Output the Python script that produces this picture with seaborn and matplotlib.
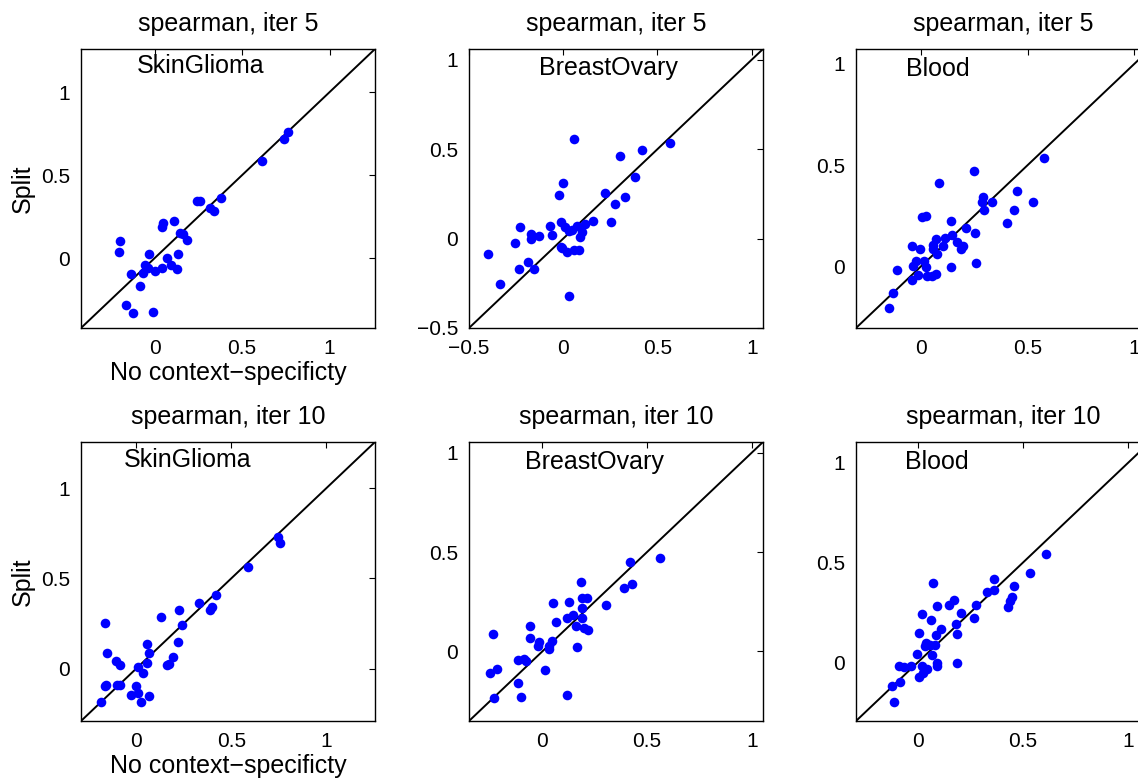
import matplotlib
matplotlib.use("Agg")
import matplotlib.pyplot as plt
import seaborn as sns
import pandas as pd

sns.set_style("white")
plt.rcParams['font.family'] = ['Liberation Sans', 'DejaVu Sans']
plt.rcParams['text.color'] = 'black'
plt.rcParams['axes.labelcolor'] = 'black'
plt.rcParams['xtick.color'] = 'black'
plt.rcParams['ytick.color'] = 'black'

# ---------------- data ----------------
# iter 5
sg5_x = [0.765, 0.740, 0.617, 0.380, 0.317, 0.338, 0.245, 0.260, 0.112, 0.051, 0.040,
         0.145, 0.165, 0.184, -0.195, -0.203, -0.032, 0.133, 0.070, -0.055, -0.040,
         -0.063, 0.004, 0.042, 0.095, 0.127, -0.137, -0.085, -0.165, -0.121, -0.006]
sg5_y = [0.758, 0.719, 0.584, 0.362, 0.305, 0.287, 0.345, 0.345, 0.222, 0.212, 0.188,
         0.150, 0.145, 0.107, 0.105, 0.040, 0.028, 0.026, 0.004, -0.040, -0.061,
         -0.089, -0.079, -0.061, -0.038, -0.067, -0.095, -0.170, -0.279, -0.327, -0.321]

bo5_x = [0.058, 0.564, 0.419, 0.300, 0.382, -0.002, -0.021, 0.223, 0.330, 0.277,
         -0.230, -0.071, -0.014, 0.159, 0.253, -0.173, -0.170, -0.129, -0.062, 0.009,
         0.030, 0.048, 0.074, 0.115, 0.101, 0.088, -0.258, -0.399, -0.014, -0.005,
         0.021, 0.057, 0.083, -0.187, -0.233, -0.157, -0.337, 0.030]
bo5_y = [0.558, 0.537, 0.493, 0.461, 0.347, 0.308, 0.241, 0.257, 0.231, 0.194,
         0.063, 0.073, 0.091, 0.099, 0.091, 0.024, -0.004, 0.015, 0.021, 0.063,
         0.043, 0.048, 0.071, 0.080, 0.039, 0.009, -0.026, -0.088, -0.045, -0.055,
         -0.076, -0.063, -0.063, -0.129, -0.170, -0.170, -0.252, -0.319]

bl5_x = [0.577, 0.250, 0.084, 0.452, 0.289, 0.284, 0.331, 0.527, 0.294, 0.436, 0.405,
         0.003, 0.022, 0.139, 0.213, 0.253, 0.072, 0.113, 0.144, 0.167, 0.198, 0.188,
         0.055, 0.058, 0.105, 0.077, -0.042, -0.003, -0.023, -0.039, 0.016, 0.022,
         -0.113, -0.013, 0.030, 0.050, 0.072, 0.141, 0.256, -0.044, -0.130, -0.150]
bl5_y = [0.533, 0.472, 0.413, 0.370, 0.343, 0.317, 0.318, 0.317, 0.277, 0.279, 0.215,
         0.246, 0.249, 0.226, 0.191, 0.163, 0.137, 0.142, 0.153, 0.120, 0.101, 0.084,
         0.106, 0.084, 0.101, 0.061, 0.099, 0.087, 0.028, 0.000, 0.028, -0.002,
         -0.018, -0.041, -0.048, -0.048, -0.038, -0.003, 0.015, -0.069, -0.134, -0.206]

# iter 10
sg10_x = [0.747, 0.756, 0.588, 0.419, 0.330, 0.386, 0.400, 0.223, 0.133, 0.241, -0.166,
          0.222, 0.058, 0.068, -0.155, -0.106, -0.087, 0.195, 0.162, 0.173, 0.058,
          0.010, 0.035, -0.166, -0.160, -0.099, -0.086, -0.003, -0.026, 0.009, 0.066,
          0.023, -0.187]
sg10_y = [0.730, 0.697, 0.562, 0.408, 0.364, 0.325, 0.342, 0.325, 0.288, 0.244, 0.253,
          0.150, 0.135, 0.089, 0.087, 0.043, 0.022, 0.067, 0.020, 0.024, 0.033,
          0.009, -0.022, -0.098, -0.090, -0.091, -0.091, -0.098, -0.144, -0.137, -0.153,
          -0.183, -0.187]

bo10_x = [0.560, 0.419, 0.427, 0.391, 0.187, 0.305, 0.191, 0.212, 0.049, 0.129, 0.190,
          0.116, 0.148, 0.188, 0.065, 0.159, 0.199, 0.220, -0.057, -0.059, -0.233,
          -0.016, -0.021, 0.045, 0.032, 0.032, 0.164, -0.116, -0.088, -0.080, 0.014,
          -0.250, -0.217, -0.116, -0.230, -0.104, 0.116]
bo10_y = [0.471, 0.450, 0.339, 0.319, 0.348, 0.235, 0.269, 0.269, 0.244, 0.250, 0.217,
          0.170, 0.185, 0.170, 0.146, 0.129, 0.116, 0.108, 0.128, 0.067, 0.086,
          0.049, 0.025, 0.054, 0.029, 0.012, 0.020, -0.044, -0.039, -0.047, -0.092,
          -0.106, -0.089, -0.161, -0.234, -0.229, -0.217]

bl10_x = [0.610, 0.533, 0.363, 0.457, 0.329, 0.363, 0.449, 0.440, 0.429, 0.073, 0.173,
          0.148, 0.092, 0.276, 0.203, 0.267, 0.021, 0.060, 0.183, 0.108, 0.186, 0.006,
          0.087, 0.038, 0.035, 0.059, 0.083, -0.005, 0.068, -0.089, -0.068, -0.032,
          0.019, 0.043, 0.090, 0.090, 0.187, 0.006, 0.022, -0.122, -0.086, -0.113]
bl10_y = [0.542, 0.445, 0.416, 0.384, 0.354, 0.362, 0.327, 0.307, 0.275, 0.398, 0.310,
          0.289, 0.284, 0.285, 0.247, 0.220, 0.240, 0.213, 0.191, 0.168, 0.143, 0.144,
          0.138, 0.097, 0.081, 0.087, 0.084, 0.042, 0.037, -0.020, -0.023, -0.020,
          -0.020, -0.034, -0.003, -0.017, -0.002, -0.074, -0.055, -0.119, -0.099, -0.198]

titles = ["spearman, iter 5"] * 3 + ["spearman, iter 10"] * 3
tissues = ["SkinGlioma", "BreastOvary", "Blood"] * 2
limits = [(-0.42, 1.26), (-0.50, 1.06), (-0.305, 1.074),
          (-0.29, 1.255), (-0.35, 1.054), (-0.295, 1.104)]
ticks_std = [0, 0.5, 1]
ticklabels_std = ["0", "0.5", "1"]
ticks_bo5 = [-0.5, 0, 0.5, 1]
ticklabels_bo5 = ["\u22120.5", "0", "0.5", "1"]
xlabel_text = "No context\u2212specificty"
ylabel_text = "Split"

series = [(sg5_x, sg5_y), (bo5_x, bo5_y), (bl5_x, bl5_y),
          (sg10_x, sg10_y), (bo10_x, bo10_y), (bl10_x, bl10_y)]

# ---------------- layout ----------------
W, H = 1138, 778
fig = plt.figure(figsize=(W / 100, H / 100), dpi=100)
col_left = [81, 469, 856]
row_top = [49, 442]
aw, ah = 294, 279
text_pos = [(0.189, 0.938), (0.238, 0.932), (0.171, 0.928),
            (0.147, 0.934), (0.190, 0.928), (0.166, 0.928)]

for i in range(6):
    r, c = divmod(i, 3)
    left = col_left[c] / W
    bottom = 1 - (row_top[r] + ah) / H
    ax = fig.add_axes([left, bottom, aw / W, ah / H])
    xs, ys = series[i]
    df = pd.DataFrame({"x": xs, "y": ys})
    lo, hi = limits[i]
    ax.plot([lo, hi], [lo, hi], color="black", lw=1.4, zorder=1)
    sns.scatterplot(data=df, x="x", y="y", ax=ax, color="#0000ff", s=48,
                    linewidth=0, zorder=2, legend=False)
    ax.set_xlim(lo, hi)
    ax.set_ylim(lo, hi)
    if i == 1:
        tv, tl = ticks_bo5, ticklabels_bo5
    else:
        tv, tl = ticks_std, ticklabels_std
    ax.set_xticks(tv)
    ax.set_xticklabels(tl)
    ax.set_yticks(tv)
    ax.set_yticklabels(tl)
    ax.tick_params(direction="in", top=True, right=True, length=4, width=0.8,
                   labelsize=15, pad=8, colors="black")
    for sp in ax.spines.values():
        sp.set_visible(True)
        sp.set_color("black")
        sp.set_linewidth(1.0)
    ax.set_title(titles[i], fontsize=18, pad=13, color="black")
    ax.text(text_pos[i][0], text_pos[i][1], tissues[i], transform=ax.transAxes,
            ha="left", va="center", fontsize=18, color="black")
    if c == 0:
        ax.set_xlabel(xlabel_text, fontsize=18, labelpad=2, color="black")
        ax.set_ylabel(ylabel_text, fontsize=18, labelpad=4, color="black")
    else:
        ax.set_xlabel("")
        ax.set_ylabel("")

fig.savefig("out.png", dpi=100)
